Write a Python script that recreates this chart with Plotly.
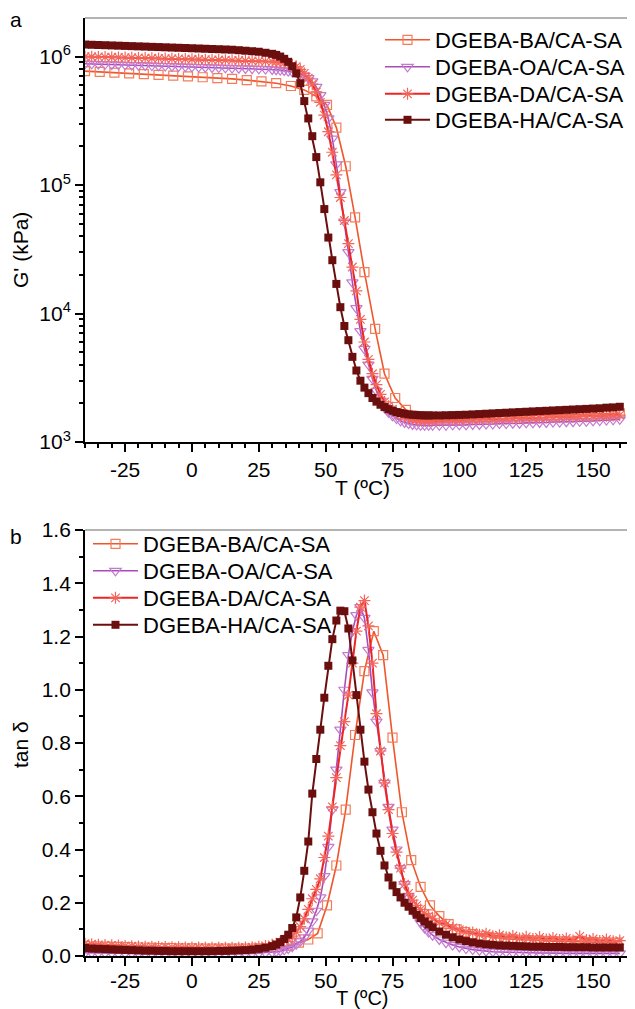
import plotly.graph_objects as go

# ---------------- data ----------------
NAMES = ["DGEBA-BA/CA-SA", "DGEBA-OA/CA-SA", "DGEBA-DA/CA-SA", "DGEBA-HA/CA-SA"]

# shared temperature grid (°C) for OA, DA, HA
T_GRID = [-40, -37.5, -35, -32.5, -30, -27.5, -25, -22.5, -20, -17.5, -15, -12.5, -10, -7.5,
          -5, -2.5, 0, 2.5, 5, 7.5, 10, 12.5, 15, 17.5, 20, 22.5, 25, 27.5, 30,
          31.5, 33, 34.5, 36, 37.5, 39, 40.5, 42, 43.5, 45, 46.5, 48, 49.5, 51, 52.5, 54,
          55.5, 57, 58.5, 60, 61.5, 63, 64.5, 66, 67.5, 69, 70.5, 72, 73.5, 75, 76.5, 78,
          79.5, 81, 82.5, 84, 85.5, 87, 88.5,
          90, 92.5, 95, 97.5, 100, 102.5, 105, 107.5, 110, 112.5, 115, 117.5, 120, 122.5,
          125, 127.5, 130, 132.5, 135, 137.5, 140, 142.5, 145, 147.5, 150, 152.5, 155,
          157.5, 160]

# storage modulus G' (kPa)
G_HA = [1.24e6, 1.235e6, 1.23e6, 1.225e6, 1.22e6, 1.215e6, 1.21e6, 1.205e6, 1.2e6, 1.195e6,
        1.19e6, 1.185e6, 1.18e6, 1.175e6, 1.17e6, 1.165e6, 1.16e6, 1.155e6, 1.15e6, 1.145e6,
        1.14e6, 1.135e6, 1.13e6, 1.12e6, 1.11e6, 1.1e6, 1.09e6, 1.07e6, 1.05e6,
        1.03e6, 1.0e6, 9.6e5, 9.1e5, 8.4e5, 7.4e5, 6.2e5, 4.5e5, 3.3e5, 2.4e5, 1.65e5, 1.05e5,
        6.5e4, 3.9e4, 2.6e4, 1.7e4, 1.12e4, 8.0e3, 6.2e3, 4.6e3, 3.6e3, 3.0e3, 2.65e3, 2.4e3,
        2.2e3, 2.06e3, 1.95e3, 1.87e3, 1.8e3, 1.75e3, 1.71e3, 1.68e3, 1.66e3, 1.64e3, 1.63e3,
        1.62e3, 1.615e3, 1.61e3, 1.61e3,
        1.61e3, 1.61e3, 1.615e3, 1.62e3, 1.625e3, 1.63e3, 1.64e3, 1.65e3, 1.66e3, 1.67e3,
        1.68e3, 1.69e3, 1.70e3, 1.71e3, 1.72e3, 1.73e3, 1.74e3, 1.75e3, 1.76e3, 1.77e3,
        1.78e3, 1.79e3, 1.80e3, 1.81e3, 1.82e3, 1.83e3, 1.85e3, 1.86e3, 1.88e3]

G_OA = [8.8e5, 8.77e5, 8.74e5, 8.71e5, 8.68e5, 8.65e5, 8.62e5, 8.59e5, 8.56e5, 8.53e5,
        8.5e5, 8.47e5, 8.44e5, 8.41e5, 8.38e5, 8.35e5, 8.32e5, 8.29e5, 8.26e5, 8.23e5,
        8.2e5, 8.17e5, 8.14e5, 8.11e5, 8.08e5, 8.05e5, 8.02e5, 7.98e5, 7.94e5,
        7.9e5, 7.85e5, 7.8e5, 7.7e5, 7.6e5, 7.5e5, 7.35e5, 7.1e5, 6.8e5, 6.4e5, 5.8e5, 5.0e5,
        4.2e5, 3.3e5, 2.3e5, 1.45e5, 8.8e4, 5.2e4, 3.0e4, 1.75e4, 1.1e4, 7.3e3, 5.3e3, 4.0e3,
        3.1e3, 2.5e3, 2.1e3, 1.85e3, 1.7e3, 1.6e3, 1.52e3, 1.46e3, 1.42e3, 1.39e3, 1.37e3,
        1.36e3, 1.35e3, 1.35e3, 1.35e3,
        1.35e3, 1.35e3, 1.35e3, 1.36e3, 1.36e3, 1.36e3, 1.37e3, 1.37e3, 1.38e3, 1.38e3,
        1.39e3, 1.39e3, 1.40e3, 1.40e3, 1.41e3, 1.41e3, 1.42e3, 1.42e3, 1.43e3, 1.43e3,
        1.44e3, 1.44e3, 1.45e3, 1.45e3, 1.46e3, 1.47e3, 1.48e3, 1.49e3, 1.50e3]

G_DA = [1.0e6, 9.97e5, 9.94e5, 9.91e5, 9.88e5, 9.85e5, 9.82e5, 9.79e5, 9.76e5, 9.73e5,
        9.7e5, 9.67e5, 9.64e5, 9.61e5, 9.58e5, 9.55e5, 9.52e5, 9.49e5, 9.46e5, 9.43e5,
        9.4e5, 9.37e5, 9.34e5, 9.31e5, 9.28e5, 9.25e5, 9.22e5, 9.18e5, 9.14e5,
        9.1e5, 9.05e5, 8.95e5, 8.8e5, 8.6e5, 8.35e5, 7.95e5, 7.4e5, 6.8e5, 6.1e5, 5.3e5, 4.4e5,
        3.5e5, 2.6e5, 1.8e5, 1.2e5, 8.0e4, 5.3e4, 3.5e4, 2.3e4, 1.5e4, 9.0e3, 6.0e3, 4.4e3,
        3.4e3, 2.8e3, 2.35e3, 2.05e3, 1.9e3, 1.8e3, 1.7e3, 1.63e3, 1.58e3, 1.54e3, 1.51e3,
        1.49e3, 1.48e3, 1.47e3, 1.47e3,
        1.47e3, 1.47e3, 1.48e3, 1.48e3, 1.49e3, 1.49e3, 1.5e3, 1.5e3, 1.51e3, 1.51e3,
        1.52e3, 1.52e3, 1.53e3, 1.53e3, 1.54e3, 1.54e3, 1.55e3, 1.55e3, 1.56e3, 1.56e3,
        1.57e3, 1.57e3, 1.58e3, 1.58e3, 1.59e3, 1.6e3, 1.6e3, 1.61e3, 1.62e3]

T_BA_G = [-40, -34.5, -29, -23.5, -18, -12.5, -7, -1.5, 4, 9.5, 15, 20.5, 26, 31.5, 37, 42,
          46.5, 50.5, 54, 57.5, 61, 64.5, 68.5, 72, 76, 80,
          83, 86, 89, 92, 95, 98, 101, 104, 107, 110, 113, 116, 119, 122, 125, 128, 131,
          134, 137, 140, 143, 146, 149, 152, 155, 158, 160]
G_BA = [7.7e5, 7.6e5, 7.5e5, 7.4e5, 7.3e5, 7.2e5, 7.1e5, 7.0e5, 6.9e5, 6.8e5, 6.7e5, 6.55e5,
        6.4e5, 6.2e5, 5.9e5, 5.5e5, 4.9e5, 4.2e5, 2.8e5, 1.4e5, 5.6e4, 2.1e4, 7.6e3, 3.4e3,
        2.2e3, 1.78e3,
        1.6e3, 1.57e3, 1.56e3, 1.56e3, 1.56e3, 1.57e3, 1.57e3, 1.57e3, 1.58e3, 1.58e3,
        1.59e3, 1.59e3, 1.6e3, 1.6e3, 1.61e3, 1.61e3, 1.62e3, 1.62e3, 1.63e3, 1.63e3,
        1.64e3, 1.64e3, 1.65e3, 1.65e3, 1.66e3, 1.66e3, 1.67e3]

# loss factor tan(delta)
TAN_HA = [0.030, 0.028, 0.027, 0.026, 0.025, 0.024, 0.023, 0.022, 0.021, 0.020, 0.020, 0.019,
          0.019, 0.018, 0.018, 0.018, 0.018, 0.018, 0.018, 0.018, 0.019, 0.019, 0.020, 0.021,
          0.022, 0.024, 0.027, 0.031, 0.037,
          0.043, 0.052, 0.064, 0.08, 0.105, 0.145, 0.22, 0.32, 0.43, 0.61, 0.74, 0.85, 0.97,
          1.09, 1.19, 1.26, 1.297, 1.295, 1.23, 1.11, 0.98, 0.85, 0.73, 0.625, 0.54, 0.46,
          0.395, 0.34, 0.295, 0.265, 0.24, 0.22, 0.2, 0.185, 0.17, 0.155, 0.142, 0.13, 0.118,
          0.108, 0.092, 0.08, 0.07, 0.062, 0.056, 0.051, 0.047, 0.044, 0.042, 0.04, 0.039,
          0.038, 0.037, 0.036, 0.035, 0.035, 0.034, 0.034, 0.034, 0.033, 0.033, 0.033, 0.033,
          0.032, 0.032, 0.032, 0.032, 0.032]

TAN_OA = [0.012, 0.012, 0.011, 0.011, 0.011, 0.010, 0.010, 0.010, 0.010, 0.009, 0.009, 0.009,
          0.009, 0.009, 0.008, 0.008, 0.008, 0.008, 0.008, 0.008, 0.008, 0.008, 0.008, 0.009,
          0.009, 0.010, 0.011, 0.012, 0.014,
          0.016, 0.019, 0.023, 0.028, 0.035, 0.044, 0.055, 0.07, 0.095, 0.13, 0.17, 0.22,
          0.3, 0.41, 0.55, 0.7, 0.85, 1.0, 1.13, 1.22, 1.28, 1.31, 1.27, 1.15, 0.99, 0.88,
          0.77, 0.65, 0.56, 0.475, 0.4, 0.33, 0.27, 0.22, 0.18, 0.15, 0.125, 0.105, 0.09,
          0.078, 0.062, 0.05, 0.041, 0.034, 0.028, 0.024, 0.021, 0.018, 0.016, 0.015, 0.014,
          0.013, 0.012, 0.012, 0.011, 0.011, 0.011, 0.010, 0.010, 0.010, 0.010, 0.010, 0.010,
          0.010, 0.010, 0.010, 0.010, 0.010]

TAN_DA = [0.046, 0.044, 0.042, 0.041, 0.040, 0.039, 0.038, 0.037, 0.036, 0.035, 0.035, 0.034,
          0.034, 0.033, 0.033, 0.032, 0.032, 0.032, 0.031, 0.031, 0.031, 0.031, 0.031, 0.031,
          0.032, 0.033, 0.035, 0.038, 0.042,
          0.046, 0.051, 0.057, 0.064, 0.075, 0.09, 0.11, 0.14, 0.175, 0.215, 0.25, 0.29,
          0.37, 0.45, 0.56, 0.67, 0.79, 0.88, 0.98, 1.1, 1.22, 1.31, 1.335, 1.24, 1.1, 0.91,
          0.77, 0.65, 0.55, 0.46, 0.39, 0.33, 0.27, 0.235, 0.21, 0.19, 0.175, 0.16, 0.15,
          0.14, 0.125, 0.118, 0.105, 0.098, 0.09, 0.088, 0.08, 0.084, 0.074, 0.078, 0.07,
          0.075, 0.066, 0.072, 0.064, 0.07, 0.062, 0.068, 0.06, 0.066, 0.058, 0.074, 0.06,
          0.064, 0.056, 0.062, 0.055, 0.058]

T_BA_D = [-40, -36, -32, -28, -24, -20, -16, -12, -8, -4, 0, 4, 8, 12, 16, 20, 24, 28, 32,
          36, 40, 43.5, 47, 50.5, 54, 57.5, 61, 64.5, 68, 71.5, 75, 78.5, 82, 85.5, 89, 92.5,
          96, 99, 102, 105, 108, 111, 114, 117, 120, 123, 126, 129, 132, 135, 138, 141, 144,
          147, 150, 153, 156, 159]
TAN_BA = [0.038, 0.036, 0.035, 0.034, 0.033, 0.032, 0.031, 0.030, 0.030, 0.029, 0.029, 0.028,
          0.028, 0.028, 0.028, 0.028, 0.029, 0.030, 0.033, 0.038, 0.05,
          0.062, 0.085, 0.19, 0.34, 0.55, 0.83, 1.07, 1.22, 1.13, 0.82, 0.54, 0.36, 0.26,
          0.19, 0.15, 0.12,
          0.1, 0.09, 0.082, 0.076, 0.072, 0.068, 0.065, 0.063, 0.061, 0.06, 0.058, 0.057,
          0.056, 0.055, 0.054, 0.053, 0.052, 0.052, 0.051, 0.05, 0.05]

# axis ticks
X_TICKS = [-25, 0, 25, 50, 75, 100, 125, 150]
X_TICK_TEXT = ["-25", "0", "25", "50", "75", "100", "125", "150"]
G_TICKS = [1e3, 1e4, 1e5, 1e6]
G_TICK_TEXT = ["10<sup>3</sup>", "10<sup>4</sup>", "10<sup>5</sup>", "10<sup>6</sup>"]
TAN_TICKS = [0, 0.2, 0.4, 0.6, 0.8, 1.0, 1.2, 1.4, 1.6]
TAN_TICK_TEXT = ["0.0", "0.2", "0.4", "0.6", "0.8", "1.0", "1.2", "1.4", "1.6"]

# ---------------- styling ----------------
W, H = 635, 1009
OFF = 8          # page offset of the plot div (body margin)
FONT = "Liberation Sans, Arial, sans-serif"
FS = 21
FS_LEG = 22
AX_L = 85                       # page x of left axis
PX_PER_DEG = 2.674
TOP_T, TOP_B = 18, 442          # page y of top panel frame
BOT_T, BOT_B = 530, 956         # page y of bottom panel frame
X_RIGHT = -40 + (W + OFF - AX_L) / PX_PER_DEG


def fx(p):
    return (p - OFF) / W


def fy(p):
    return 1 - (p - OFF) / H


STYLE = {
    NAMES[0]: dict(line="#F0552B", mcol="#F47C5A", symbol="square-open", size=9, lw=1.6, mlw=1.2),
    NAMES[1]: dict(line="#A84CB8", mcol="#C47ACF", symbol="triangle-down-open", size=10, lw=1.6, mlw=1.2),
    NAMES[2]: dict(line="#EE2424", mcol="#F3655A", symbol="asterisk-open", size=10, lw=2.0, mlw=1.2),
    NAMES[3]: dict(line="#6B0E0E", mcol="#6B0E0E", symbol="square", size=8, lw=2.0, mlw=0),
}

fig = go.Figure()

top_series = [(T_BA_G, G_BA), (T_GRID, G_OA), (T_GRID, G_DA), (T_GRID, G_HA)]
bot_series = [(T_BA_D, TAN_BA), (T_GRID, TAN_OA), (T_GRID, TAN_DA), (T_GRID, TAN_HA)]

# one legend box per entry so the row spacing can follow the reference
TOP_ROWS = [40, 67, 94, 120]
BOT_ROWS = [544, 571, 598, 625]
TOP_LEG_X, BOT_LEG_X = 380, 88

legends = {}
for i, (name, (tx, ty)) in enumerate(zip(NAMES, top_series)):
    s = STYLE[name]
    key = "legend" if i == 0 else f"legend{i + 1}"
    legends[key] = dict(x=fx(TOP_LEG_X), y=fy(TOP_ROWS[i]), xanchor="left", yanchor="middle")
    fig.add_trace(go.Scatter(
        x=tx, y=ty, name=name, mode="lines+markers", xaxis="x", yaxis="y", legend=key,
        line=dict(color=s["line"], width=s["lw"]),
        marker=dict(symbol=s["symbol"], size=s["size"], color=s["mcol"],
                    line=dict(color=s["mcol"], width=s["mlw"])),
    ))

for i, (name, (tx, ty)) in enumerate(zip(NAMES, bot_series)):
    s = STYLE[name]
    key = f"legend{i + 5}"
    legends[key] = dict(x=fx(BOT_LEG_X), y=fy(BOT_ROWS[i]), xanchor="left", yanchor="middle")
    fig.add_trace(go.Scatter(
        x=tx, y=ty, name=name, mode="lines+markers", xaxis="x2", yaxis="y2", legend=key,
        line=dict(color=s["line"], width=s["lw"]),
        marker=dict(symbol=s["symbol"], size=s["size"], color=s["mcol"],
                    line=dict(color=s["mcol"], width=s["mlw"])),
    ))

for key, lg in legends.items():
    lg.update(bgcolor="rgba(0,0,0,0)", borderwidth=0, itemwidth=45,
              font=dict(family=FONT, size=FS_LEG, color="black"))

axis_common = dict(showline=True, linecolor="black", linewidth=1.8, ticks="outside",
                   ticklen=8, tickwidth=1.8, tickcolor="black", showgrid=False, zeroline=False,
                   automargin=False,
                   tickfont=dict(family=FONT, size=FS, color="black"))

xaxis_common = dict(axis_common, range=[-40, X_RIGHT], tickmode="array", tickvals=X_TICKS,
                    ticktext=X_TICK_TEXT,
                    minor=dict(ticks="outside", ticklen=4.5, tickwidth=1.5, tickcolor="black",
                               dtick=5, tick0=0, showgrid=False))

minor_log = [m * 10 ** e for e in range(3, 7) for m in range(2, 10)]

fig.update_layout(
    width=W, height=H, margin=dict(l=0, r=0, t=0, b=0, autoexpand=False),
    paper_bgcolor="white", plot_bgcolor="white",
    font=dict(family=FONT, size=FS, color="black"),
    xaxis=dict(xaxis_common, domain=[fx(AX_L), 1], anchor="y"),
    yaxis=dict(axis_common, type="log", range=[3, 6.3], domain=[fy(TOP_B), fy(TOP_T)],
               anchor="x", tickmode="array", tickvals=G_TICKS, ticktext=G_TICK_TEXT,
               minor=dict(ticks="outside", ticklen=4.5, tickwidth=1.5, tickcolor="black",
                          tickmode="array", tickvals=minor_log, showgrid=False)),
    xaxis2=dict(xaxis_common, domain=[fx(AX_L), 1], anchor="y2", ticklabelstandoff=-3),
    yaxis2=dict(axis_common, range=[0, 1.6], domain=[fy(BOT_B), fy(BOT_T)], anchor="x2",
                tickmode="array", tickvals=TAN_TICKS, ticktext=TAN_TICK_TEXT,
                minor=dict(ticks="outside", ticklen=4.5, tickwidth=1.5, tickcolor="black",
                           dtick=0.1, tick0=0, showgrid=False)),
    showlegend=True,
    **legends,
)

# gray top frame lines
for ytop in (TOP_T, BOT_T):
    fig.add_shape(type="line", xref="paper", yref="paper", x0=fx(AX_L), x1=1,
                  y0=fy(ytop), y1=fy(ytop), line=dict(color="#9A9A9A", width=1.5))

ann = [
    dict(text="a", x=fx(16), y=fy(19), size=FS),
    dict(text="b", x=fx(16), y=fy(536), size=FS),
    dict(text="G' (kPa)", x=fx(20), y=fy(250), textangle=-90, size=FS),
    dict(text="tan δ", x=fx(20), y=fy(745), textangle=-90, size=FS),
    dict(text="T (ºC)", x=fx(362), y=fy(487), size=FS),
    dict(text="T (ºC)", x=fx(362), y=fy(997.5), size=20),
]
for a in ann:
    size = a.pop("size")
    fig.add_annotation(xref="paper", yref="paper", showarrow=False, xanchor="center",
                       yanchor="middle", font=dict(family=FONT, size=size, color="black"), **a)

fig.write_html("out.html")
